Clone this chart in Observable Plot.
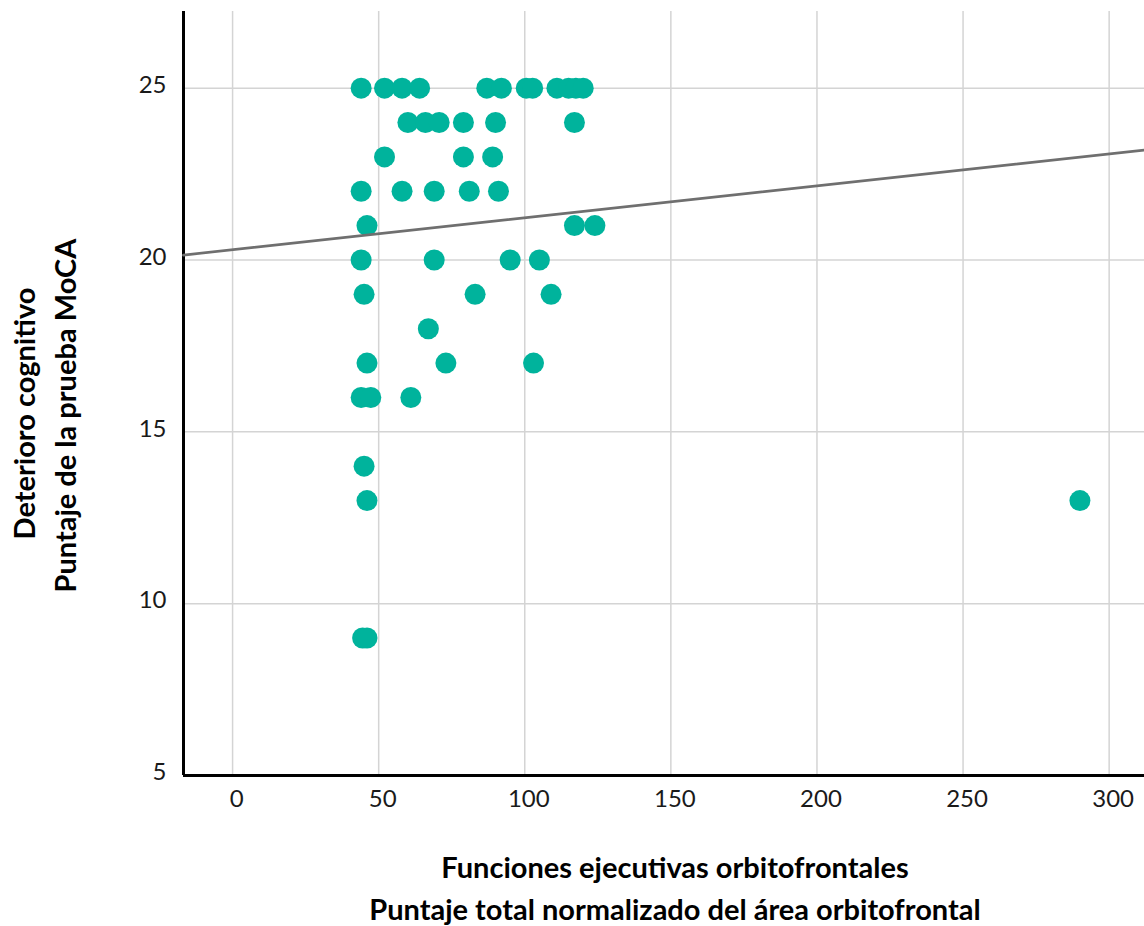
<!DOCTYPE html>
<html><head><meta charset="utf-8">
<script src="https://cdn.jsdelivr.net/npm/d3@7"></script>
<script src="https://cdn.jsdelivr.net/npm/@observablehq/plot@0.6"></script>
<style>body{margin:0;background:#fff;}</style>
</head><body><div id="chart"></div>
<script>
// Orbitofrontal executive functions (normalized total score) vs MoCA score
const scoreOrbitofrontal = [
  44, 52, 58, 64, 87, 92, 100.5, 102.7, 111, 115, 117.5, 120,
  60, 66, 70.7, 79, 90, 117,
  52, 79, 89,
  44, 58, 69, 81, 91,
  46, 117, 124,
  44, 69, 95, 105,
  45, 83, 109,
  67,
  46, 73, 103,
  44, 47.3, 61,
  45,
  46, 290,
  44.5, 46
];
const scoreMoCA = [
  25, 25, 25, 25, 25, 25, 25, 25, 25, 25, 25, 25,
  24, 24, 24, 24, 24, 24,
  23, 23, 23,
  22, 22, 22, 22, 22,
  21, 21, 21,
  20, 20, 20, 20,
  19, 19, 19,
  18,
  17, 17, 17,
  16, 16, 16,
  14,
  13, 13,
  9, 9
];
const xTicks = [0, 50, 100, 150, 200, 250, 300];
const yTicks = [5, 10, 15, 20, 25];
const xDomain = [-16.8, 312.1];
const yDomain = [5, 27.23];
const fitIntercept = 20.30;
const fitSlope = 0.00928;
const xTitle = ["Funciones ejecutivas orbitofrontales", "Puntaje total normalizado del área orbitofrontal"];
const yTitle = ["Deterioro cognitivo", "Puntaje de la prueba MoCA"];

const points = scoreOrbitofrontal.map((x, i) => ({x, y: scoreMoCA[i]}));
const fit = xDomain.map(x => ({x, y: fitIntercept + fitSlope * x}));

const titleStyle = {text: d => d, fontWeight: "bold", fontSize: 29, fill: "#000", textAnchor: "middle", lineAnchor: "middle"};

const chart = Plot.plot({
  width: 1144, height: 926,
  marginLeft: 183, marginTop: 11, marginBottom: 151, marginRight: 0,
  style: {fontFamily: "Lato, 'Open Sans', sans-serif", fontSize: "24px", color: "#1a1a1a", background: "#fff"},
  x: {domain: xDomain},
  y: {domain: yDomain},
  marks: [
    Plot.gridX(xTicks, {stroke: "#d4d4d4", strokeOpacity: 1, strokeWidth: 1.5}),
    Plot.gridY(yTicks, {stroke: "#d4d4d4", strokeOpacity: 1, strokeWidth: 1.5}),
    Plot.axisX(xTicks, {tickSize: 0, tickPadding: 14, dx: 4, label: null}),
    Plot.axisY(yTicks, {tickSize: 0, tickPadding: 17, dy: -3, label: null}),
    Plot.ruleX([xDomain[0]], {stroke: "#000", strokeWidth: 3}),
    Plot.ruleY([yDomain[0]], {stroke: "#000", strokeWidth: 3}),
    Plot.dot(points, {x: "x", y: "y", r: 10.5, fill: "#00b39c", stroke: "none"}),
    Plot.line(fit, {x: "x", y: "y", stroke: "#6f6f6f", strokeWidth: 2.8}),
    Plot.text([xTitle[0]], {...titleStyle, frameAnchor: "bottom", dx: 11, dy: 93}),
    Plot.text([xTitle[1]], {...titleStyle, frameAnchor: "bottom", dx: 11, dy: 135}),
    Plot.text([yTitle[0]], {...titleStyle, frameAnchor: "left", rotate: -90, dx: -158, dy: 20}),
    Plot.text([yTitle[1]], {...titleStyle, frameAnchor: "left", rotate: -90, dx: -117, dy: 22})
  ]
});
document.getElementById("chart").append(chart);
</script>
</body></html>
